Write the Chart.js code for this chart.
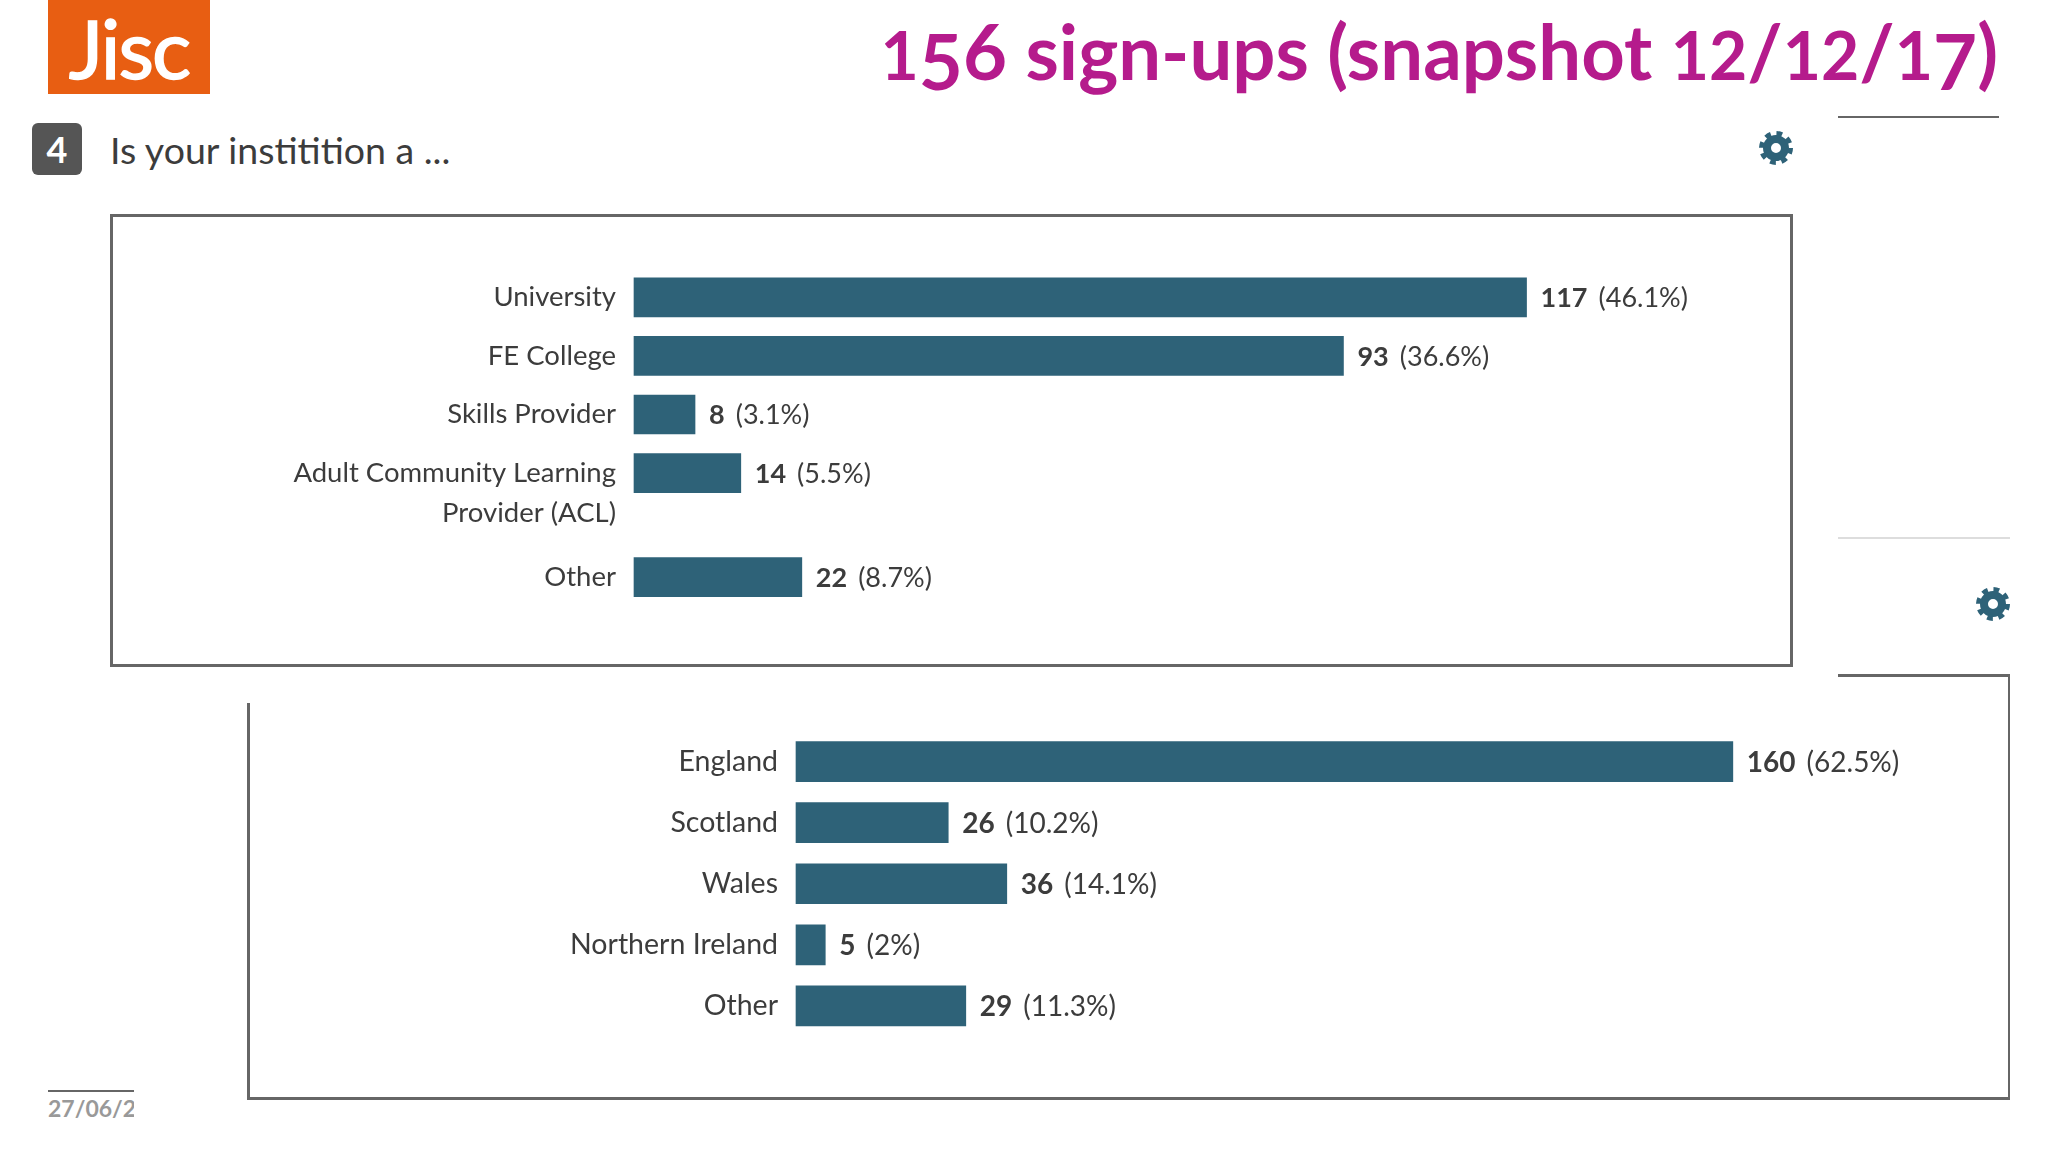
<!DOCTYPE html>
<html>
<head>
<meta charset="utf-8">
<title>156 sign-ups</title>
<script src="https://cdn.jsdelivr.net/npm/chart.js@4"></script>
<style>
  body { margin: 0; background: #fff; width: 2048px; height: 1152px; position: relative; overflow: hidden; font-family: Lato, sans-serif; }
  .abs { position: absolute; }
  .line { position: absolute; background: #666; }
  #logo { left: 48px; top: 0; width: 162px; height: 94px; background: #e85e12; color: #fff; font-size: 82px; line-height: 94px; text-align: center; letter-spacing: -2px; -webkit-text-stroke: 1.5px #fff; }
  #title { right: 50px; top: 6px; color: #b51b8c; font-size: 76px; font-weight: 700; line-height: 90px; white-space: nowrap; }
  /* old style figures, the font only has lining ones */
  #title .s { font-size: 66px; }
  #title .d { position: relative; top: 10px; }
  #badge { left: 32px; top: 123px; width: 50px; height: 52px; border-radius: 6px; background: #555; color: #fff; font-size: 36px; font-weight: 700; line-height: 52px; text-align: center; }
  #question { left: 110px; top: 125px; color: #3c3c3c; font-size: 37.5px; line-height: 50px; white-space: nowrap; }
  #date { left: 48px; top: 1091px; width: 86px; overflow: hidden; color: #999; font-size: 23px; font-weight: 700; line-height: 34px; white-space: nowrap; }
  canvas { position: absolute; }
</style>
</head>
<body>
<div id="logo" class="abs">Jisc</div>
<div id="title" class="abs"><span class="s">1</span><span class="d">5</span>6 sign-ups (snapshot <span class="s">12</span>/<span class="s">12</span>/<span class="s">1</span><span class="d">7</span>)</div>
<div id="badge" class="abs">4</div>
<div id="question" class="abs">Is your institition a ...</div>
<svg class="abs" style="left:1758px;top:130px" width="36" height="36" viewBox="-18 -18 36 36"><circle r="9" fill="none" stroke="#2e6278" stroke-width="8"/><circle r="14" fill="none" stroke="#2e6278" stroke-width="6" stroke-dasharray="5.5 5.5"/></svg>
<svg class="abs" style="left:1975px;top:586px" width="36" height="36" viewBox="-18 -18 36 36"><circle r="9" fill="none" stroke="#2e6278" stroke-width="8"/><circle r="14" fill="none" stroke="#2e6278" stroke-width="6" stroke-dasharray="5.5 5.5"/></svg>

<div class="line" style="left:1838px;top:116px;width:161px;height:2px"></div>
<div class="line" style="left:1838px;top:537px;width:172px;height:2px;background:#ddd"></div>

<!-- top box -->
<div class="line" style="left:110px;top:214px;width:1683px;height:3px"></div>
<div class="line" style="left:110px;top:664px;width:1683px;height:3px"></div>
<div class="line" style="left:110px;top:214px;width:3px;height:453px"></div>
<div class="line" style="left:1790px;top:214px;width:3px;height:453px"></div>

<!-- bottom box, open at the top left -->
<div class="line" style="left:1838px;top:674px;width:172px;height:3px"></div>
<div class="line" style="left:2008px;top:674px;width:2px;height:425px"></div>
<div class="line" style="left:247px;top:703px;width:3px;height:396px"></div>
<div class="line" style="left:247px;top:1097px;width:1763px;height:3px"></div>

<div class="line" style="left:48px;top:1090px;width:86px;height:2px"></div>
<div id="date" class="abs">27/06/2017</div>

<canvas id="typeChart" width="1676" height="444" style="left:113px;top:217px"></canvas>
<canvas id="nationChart" width="1756" height="416" style="left:250px;top:680px"></canvas>

<script>
const typeLabels = ['University', 'FE College', 'Skills Provider', ['', 'Adult Community Learning', 'Provider (ACL)'], 'Other'];
const typeValues = [117, 93, 8, 14, 22];
const typePercents = ['46.1%', '36.6%', '3.1%', '5.5%', '8.7%'];

const nationLabels = ['England', 'Scotland', 'Wales', 'Northern Ireland', 'Other'];
const nationValues = [160, 26, 36, 5, 29];
const nationPercents = ['62.5%', '10.2%', '14.1%', '2%', '11.3%'];

const barColor = '#2e6278';
const textColor = '#3c3c3c';

// category scale with extra room before one row (the wrapped label needs it)
class GapCategoryScale extends Chart.CategoryScale {
  getPixelForValue(value, index) {
    let pixel = super.getPixelForValue(value, index);
    if (value >= this.options.gapBefore) pixel += this.options.gapSize;
    return pixel;
  }
}
GapCategoryScale.id = 'gapCategory';
Chart.register(GapCategoryScale);

// count in bold + percent in regular, right after the end of the bar
const endLabels = {
  id: 'endLabels',
  afterDatasetsDraw(chart, args, opts) {
    const c = chart.ctx;
    const bars = chart.getDatasetMeta(0).data;
    c.save();
    c.textBaseline = 'middle';
    c.fillStyle = textColor;
    bars.forEach((bar, i) => {
      const count = String(chart.data.datasets[0].data[i]);
      c.font = '700 ' + opts.size + 'px Lato';
      c.fillText(count, bar.x + 14, bar.y + 1);
      const w = c.measureText(count).width;
      c.font = '400 ' + opts.size + 'px Lato';
      c.fillText('(' + opts.percents[i] + ')', bar.x + 14 + w + 11, bar.y + 1);
    });
    c.restore();
  }
};

function makeChart(id, labels, values, percents, xMax, axisWidth, padding, fontSize, barSize, yExtra) {
  return new Chart(document.getElementById(id), {
    type: 'bar',
    plugins: [endLabels],
    data: {
      labels: labels,
      datasets: [{
        data: values,
        backgroundColor: barColor,
        barThickness: barSize,
        clip: false
      }]
    },
    options: {
      indexAxis: 'y',
      responsive: false,
      animation: false,
      layout: { padding: padding },
      plugins: {
        legend: { display: false },
        tooltip: { enabled: false },
        endLabels: { percents: percents, size: fontSize }
      },
      scales: {
        x: { display: false, min: 0, max: xMax },
        y: Object.assign({
          offset: true,
          grid: { display: false },
          border: { display: false },
          ticks: {
            autoSkip: false,
            padding: 10,
            color: textColor,
            font: { family: 'Lato', size: fontSize + 0.5, lineHeight: 1.47 }
          },
          afterFit(scale) { scale.width = axisWidth; }
        }, yExtra)
      }
    }
  });
}

makeChart('typeChart', typeLabels, typeValues, typePercents, 140, 521,
  { top: 51, bottom: 100, right: 87 }, 27, 39, { type: 'gapCategory', gapBefore: 4, gapSize: 45.5 });
makeChart('nationChart', nationLabels, nationValues, nationPercents, 190, 546,
  { top: 51, bottom: 59.5, right: 97.5 }, 28, 40, {});
</script>
</body>
</html>
